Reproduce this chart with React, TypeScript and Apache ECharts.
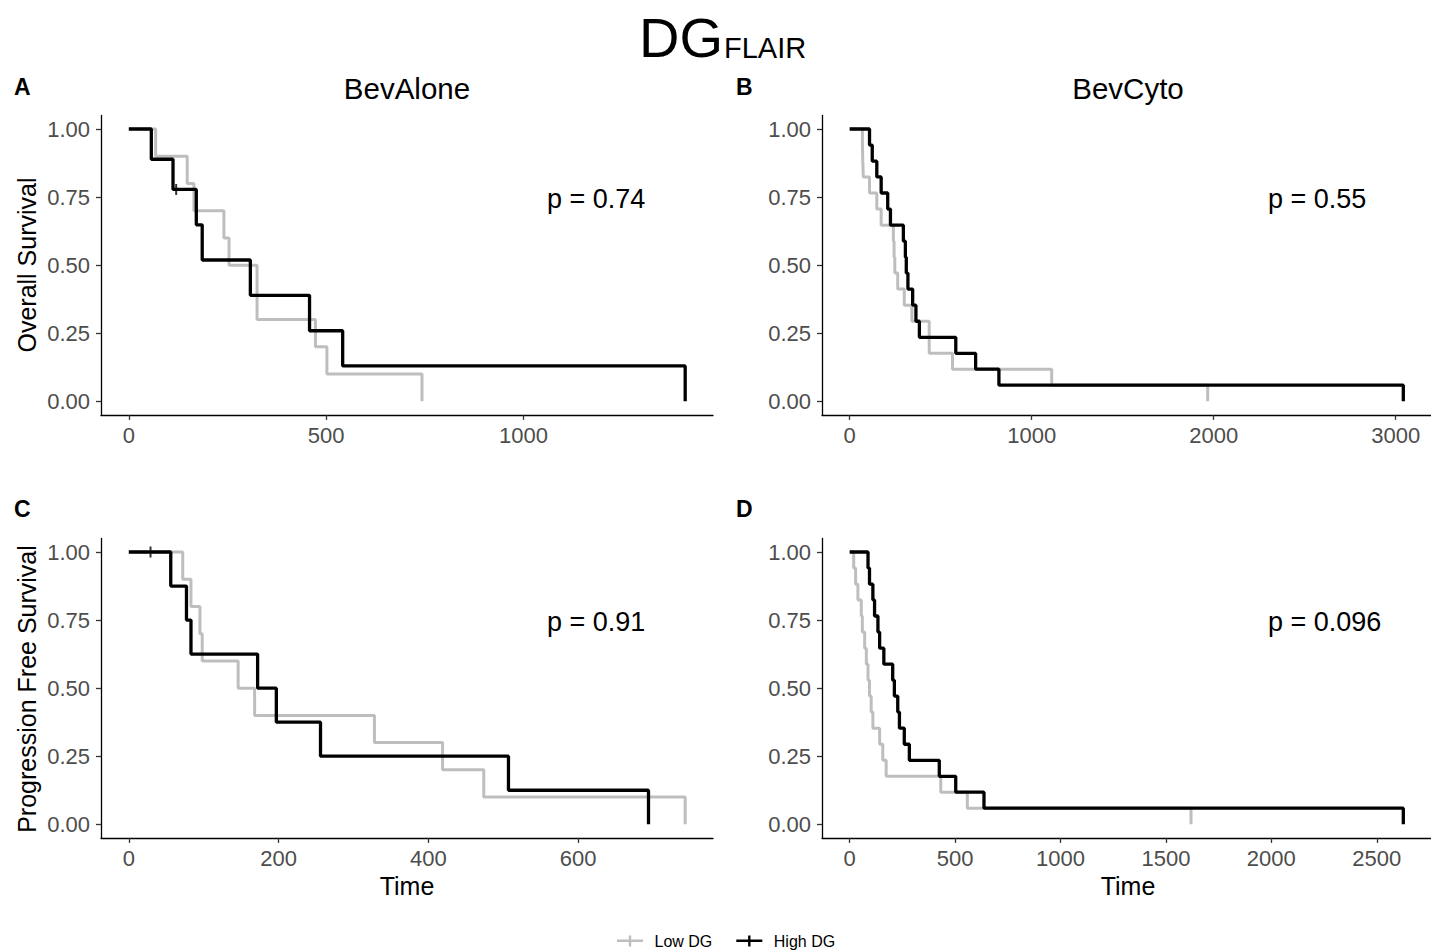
import React, { useEffect, useRef } from "react";
import * as echarts from "echarts";

// ---- data ----
const panelNames = ["A", "B", "C", "D"];
const pValues = ["p = 0.74", "p = 0.55", "p = 0.91", "p = 0.096"];

const aLowT = [0, 68, 148, 165, 241, 254, 325, 473, 502, 743];
const aLowS = [1, 0.9, 0.8, 0.7, 0.6, 0.5, 0.3, 0.2, 0.1, 0];
const aHighT = [0, 57, 112, 171, 186, 308, 458, 542, 1410];
const aHighS = [1, 0.889, 0.778, 0.648, 0.519, 0.389, 0.259, 0.13, 0];
const aHighCensor = [[120, 0.778]];

const bLowT = [0, 70, 72, 75, 109, 149, 173, 240, 244, 248, 264, 300, 342, 437, 565, 1110, 1967];
const bLowS = [1, 0.941, 0.882, 0.824, 0.765, 0.706, 0.647, 0.588, 0.529, 0.471, 0.412, 0.353, 0.294, 0.176, 0.118, 0.059, 0];
const bHighT = [0, 109, 124, 149, 173, 209, 224, 295, 306, 311, 320, 346, 364, 383, 583, 692, 820, 3042];
const bHighS = [1, 0.941, 0.882, 0.824, 0.765, 0.706, 0.647, 0.588, 0.529, 0.471, 0.412, 0.353, 0.294, 0.235, 0.176, 0.118, 0.059, 0];

const cLowT = [0, 72, 83, 95, 98, 146, 168, 328, 419, 474, 743];
const cLowS = [1, 0.9, 0.8, 0.7, 0.6, 0.5, 0.4, 0.3, 0.2, 0.1, 0];
const cHighT = [0, 56, 77, 83, 172, 197, 256, 507, 694];
const cHighS = [1, 0.875, 0.75, 0.625, 0.5, 0.375, 0.25, 0.125, 0];
const cHighCensor = [[29, 1]];

const dLowT = [0, 19, 28, 39, 55, 60, 71, 79, 87, 94, 102, 110, 142, 157, 173, 432, 558, 1619];
const dLowS = [1, 0.941, 0.882, 0.824, 0.765, 0.706, 0.647, 0.588, 0.529, 0.471, 0.412, 0.353, 0.294, 0.235, 0.176, 0.118, 0.059, 0];
const dHighT = [0, 87, 94, 110, 118, 134, 142, 162, 204, 212, 228, 236, 259, 283, 425, 503, 637, 2626];
const dHighS = [1, 0.941, 0.882, 0.824, 0.765, 0.706, 0.647, 0.588, 0.529, 0.471, 0.412, 0.353, 0.294, 0.235, 0.176, 0.118, 0.059, 0];

const xTicksA = [0, 500, 1000];
const xTicksB = [0, 1000, 2000, 3000];
const xTicksC = [0, 200, 400, 600];
const xTicksD = [0, 500, 1000, 1500, 2000, 2500];
const yTicks = [0, 0.25, 0.5, 0.75, 1];

const LOW = "Low DG";
const HIGH = "High DG";
const GRAY = "#bebebe";
const BLACK = "#000000";
const FONT = "'Liberation Sans', Arial, Helvetica, sans-serif";

const zip = (t: number[], s: number[]) => t.map((v, i) => [v, s[i]]);

export default function App() {
  const ref = useRef<HTMLDivElement>(null);
  useEffect(() => {
    if (!ref.current) return;
    const chart = echarts.init(ref.current, null, { renderer: "svg" });

    const panels = [
      { low: zip(aLowT, aLowS), high: zip(aHighT, aHighS), cens: aHighCensor, ticks: xTicksA, maxT: Math.max(...aLowT, ...aHighT) },
      { low: zip(bLowT, bLowS), high: zip(bHighT, bHighS), cens: [], ticks: xTicksB, maxT: Math.max(...bLowT, ...bHighT) },
      { low: zip(cLowT, cLowS), high: zip(cHighT, cHighS), cens: cHighCensor, ticks: xTicksC, maxT: Math.max(...cLowT, ...cHighT) },
      { low: zip(dLowT, dLowS), high: zip(dHighT, dHighS), cens: [], ticks: xTicksD, maxT: Math.max(...dLowT, ...dHighT) },
    ];
    const lefts = [101, 822, 101, 822];
    const tops = [115.4, 115.4, 538.4, 538.4];
    const W = 612;
    const H = 299.5;

    const grid = panels.map((_, i) => ({ left: lefts[i], top: tops[i], width: W, height: H }));
    const xAxis = panels.map((p, i) => ({
      type: "value",
      gridIndex: i,
      min: -0.05 * p.maxT,
      max: 1.05 * p.maxT,
      splitLine: { show: false },
      axisLine: { onZero: false, lineStyle: { color: "#000", width: 1.3 } },
      axisTick: { customValues: p.ticks, length: 5, lineStyle: { color: "#333", width: 1.3 } },
      axisLabel: {
        customValues: p.ticks,
        margin: 10,
        color: "#4d4d4d",
        fontSize: 22,
        fontFamily: FONT,
        formatter: (v: number) => String(v),
      },
    }));
    const yAxis = panels.map((_, i) => ({
      type: "value",
      gridIndex: i,
      min: -0.05,
      max: 1.05,
      splitLine: { show: false },
      axisLine: { onZero: false, lineStyle: { color: "#000", width: 1.3 } },
      axisTick: { customValues: yTicks, length: 5, lineStyle: { color: "#333", width: 1.3 } },
      axisLabel: {
        customValues: yTicks,
        margin: 11,
        color: "#4d4d4d",
        fontSize: 22,
        fontFamily: FONT,
        formatter: (v: number) => v.toFixed(2),
      },
    }));

    const series: any[] = [];
    panels.forEach((p, i) => {
      series.push({
        name: LOW, type: "line", step: "end", xAxisIndex: i, yAxisIndex: i,
        data: p.low, showSymbol: false, symbol: "none",
        lineStyle: { color: GRAY, width: 3 }, itemStyle: { color: GRAY },
      });
      series.push({
        name: HIGH, type: "line", step: "end", xAxisIndex: i, yAxisIndex: i,
        data: p.high, showSymbol: false, symbol: "none",
        lineStyle: { color: BLACK, width: 3.3 }, itemStyle: { color: BLACK },
      });
      if (p.cens.length) {
        series.push({
          name: HIGH, type: "scatter", xAxisIndex: i, yAxisIndex: i,
          data: p.cens, symbol: "rect", symbolSize: [2, 11],
          itemStyle: { color: BLACK },
        });
      }
    });

    const txt = (text: string, x: number, y: number, size: number, extra: any = {}) => ({
      type: "text", x, y, rotation: extra.rotation || 0,
      style: {
        text, fontSize: size, fontFamily: FONT, fill: extra.fill || "#000",
        fontWeight: extra.weight || "normal", align: extra.align || "center", verticalAlign: "middle",
      },
    });

    const graphic: any[] = [
      txt("DG", 639, 37, 56, { align: "left" }),
      txt("FLAIR", 724, 48, 29, { align: "left" }),
      txt("BevAlone", 407, 88, 29.5),
      txt("BevCyto", 1128, 88, 29.5),
      txt(panelNames[0], 14, 87, 23, { align: "left", weight: "bold" }),
      txt(panelNames[1], 736, 87, 23, { align: "left", weight: "bold" }),
      txt(panelNames[2], 14, 509, 23, { align: "left", weight: "bold" }),
      txt(panelNames[3], 736, 509, 23, { align: "left", weight: "bold" }),
      txt(pValues[0], 547, 199, 27, { align: "left" }),
      txt(pValues[1], 1268, 199, 27, { align: "left" }),
      txt(pValues[2], 547, 622, 27, { align: "left" }),
      txt(pValues[3], 1268, 622, 27, { align: "left" }),
      txt("Overall Survival", 27, 265, 25, { rotation: Math.PI / 2 }),
      txt("Progression Free Survival", 27, 689, 25, { rotation: Math.PI / 2 }),
      txt("Time", 407, 886, 25),
      txt("Time", 1128, 886, 25),
    ];

    const plusIcon = "path://M0,4 L26,4 L26,6.6 L0,6.6 Z M11.8,0 L14.2,0 L14.2,11 L11.8,11 Z";

    chart.setOption({
      animation: false,
      backgroundColor: "#ffffff",
      grid,
      xAxis,
      yAxis,
      series,
      graphic,
      legend: {
        data: [
          { name: LOW, icon: plusIcon, itemStyle: { color: GRAY } },
          { name: HIGH, icon: plusIcon, itemStyle: { color: BLACK } },
        ],
        left: 612,
        top: 928,
        itemWidth: 27,
        itemHeight: 11,
        itemGap: 24,
        textStyle: { fontSize: 16, fontFamily: FONT, color: "#000", padding: [0, 0, 0, 6] },
      },
    });
    return () => chart.dispose();
  }, []);

  return (
    <div
      ref={ref}
      style={{ position: "fixed", left: 0, top: 0, width: 1431, height: 952, background: "#fff" }}
    />
  );
}
